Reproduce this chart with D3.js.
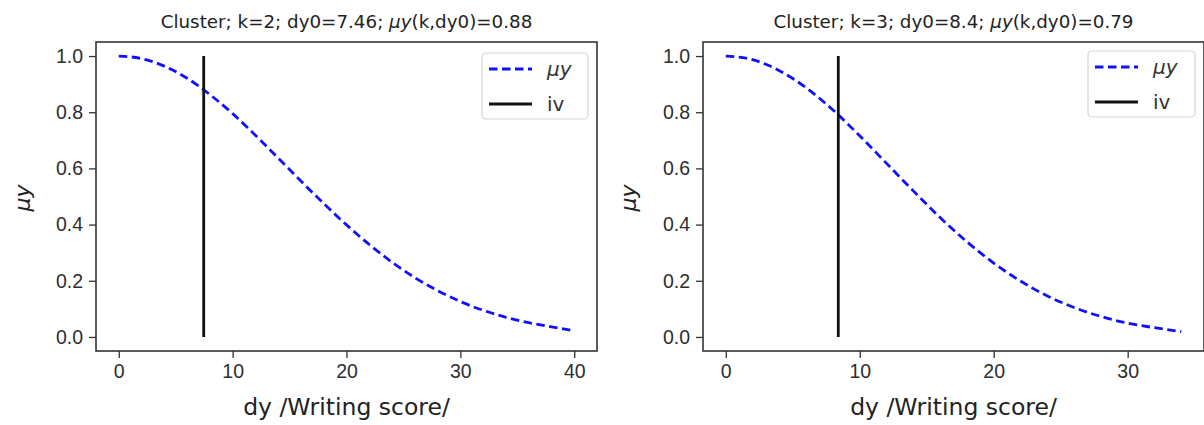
<!DOCTYPE html>
<html>
<head>
<meta charset="utf-8">
<script src="https://cdn.jsdelivr.net/npm/d3@7"></script>
<style>
  body { margin: 0; background: #fff; }
  svg { display: block; font-family: "DejaVu Sans", sans-serif; }
</style>
</head>
<body>
<div id="chart"></div>
<script>
const width = 1204;
const height = 425;

// left panel: k=2
const dyLeft = [0, 2, 4, 6, 8, 10, 12, 14, 16, 18, 20, 22, 24, 26, 28, 30, 32, 34, 36, 38, 40];
const muLeft = [1.000, 0.991, 0.964, 0.921, 0.863, 0.795, 0.718, 0.637, 0.555, 0.475, 0.399,
                0.329, 0.266, 0.211, 0.165, 0.126, 0.095, 0.070, 0.051, 0.036, 0.022];
// right panel: k=3
const dyRight = [0, 2, 4, 6, 8, 10, 12, 14, 16, 18, 20, 22, 24, 26, 28, 30, 32, 34];
const muRight = [1.000, 0.987, 0.948, 0.887, 0.808, 0.716, 0.618, 0.520, 0.425, 0.339, 0.263,
                 0.199, 0.146, 0.105, 0.073, 0.049, 0.033, 0.019];

const ivLeft = 7.46;
const ivRight = 8.4;
const titleLeft = ["Cluster; k=2; dy0=7.46; ", "0.88"];
const titleRight = ["Cluster; k=3; dy0=8.4; ", "0.79"];
const xTicksLeft = [0, 10, 20, 30, 40];
const xTicksRight = [0, 10, 20, 30];
const yTicks = [0, 0.2, 0.4, 0.6, 0.8, 1.0];

const svg = d3.select("#chart").append("svg").attr("width", width).attr("height", height);

const panels = [
  { dy: dyLeft, mu: muLeft, iv: ivLeft, title: titleLeft, xTicks: xTicksLeft,
    xDomain: [-2, 42], xRange: [96, 597], ylabX: 23,
    legend: { x: 482, y: 53, w: 106, h: 66 } },
  { dy: dyRight, mu: muRight, iv: ivRight, title: titleRight, xTicks: xTicksRight,
    xDomain: [-1.7, 35.7], xRange: [703, 1204], ylabX: 629,
    legend: { x: 1088, y: 51, w: 107, h: 66 } }
];

const yScale = d3.scaleLinear().domain([-0.05, 1.05]).range([351, 42]);

panels.forEach(p => {
  const x = d3.scaleLinear().domain(p.xDomain).range(p.xRange);
  const g = svg.append("g");

  // axes
  const xAxis = g.append("g")
    .attr("transform", `translate(0, ${yScale.range()[0]})`)
    .call(d3.axisBottom(x).tickValues(p.xTicks).tickSize(7).tickPadding(6).tickFormat(d3.format("d")));
  const yAxis = g.append("g")
    .attr("transform", `translate(${p.xRange[0]}, 0)`)
    .call(d3.axisLeft(yScale).tickValues(yTicks).tickSize(7).tickPadding(6).tickFormat(d3.format(".1f")));
  [xAxis, yAxis].forEach(a => {
    a.select(".domain").remove();
    a.selectAll(".tick line").attr("stroke", "#333").attr("stroke-width", 1.3);
    a.selectAll(".tick text").attr("fill", "#2e2e2e").attr("font-size", 19.5);
  });

  // curve
  const pts = p.dy.map((d, i) => [d, p.mu[i]]);
  g.append("path")
    .datum(pts)
    .attr("fill", "none")
    .attr("stroke", "#1010ff")
    .attr("stroke-width", 2.8)
    .attr("stroke-dasharray", "8.5,4.5")
    .attr("d", d3.line().curve(d3.curveMonotoneX).x(d => x(d[0])).y(d => yScale(d[1])));

  // iv line
  g.append("line")
    .attr("x1", x(p.iv)).attr("x2", x(p.iv))
    .attr("y1", yScale(0)).attr("y2", yScale(1))
    .attr("stroke", "#111").attr("stroke-width", 2.8);

  // frame
  g.append("rect")
    .attr("x", p.xRange[0]).attr("y", yScale.range()[1])
    .attr("width", p.xRange[1] - p.xRange[0])
    .attr("height", yScale.range()[0] - yScale.range()[1])
    .attr("fill", "none").attr("stroke", "#333").attr("stroke-width", 1.6);

  // title
  const cx = (p.xRange[0] + p.xRange[1]) / 2;
  const t = g.append("text").attr("x", cx).attr("y", 28)
    .attr("text-anchor", "middle").attr("font-size", 18.3).attr("fill", "#222");
  t.append("tspan").text(p.title[0]);
  t.append("tspan").attr("font-style", "italic").text("μy");
  t.append("tspan").text("(k,dy0)=" + p.title[1]);

  // axis labels
  g.append("text").attr("x", cx).attr("y", 415)
    .attr("text-anchor", "middle").attr("font-size", 23.5).attr("fill", "#222")
    .text("dy /Writing score/");
  g.append("text")
    .attr("transform", `translate(${p.ylabX + 7}, 198) rotate(-90)`)
    .attr("text-anchor", "middle").attr("font-size", 22).attr("font-style", "italic").attr("fill", "#222")
    .text("μy");

  // legend
  const L = p.legend;
  const lg = g.append("g").attr("transform", `translate(${L.x}, ${L.y})`);
  lg.append("rect").attr("width", L.w).attr("height", L.h).attr("rx", 4)
    .attr("fill", "#fff").attr("fill-opacity", 0.8).attr("stroke", "#d6d6d6").attr("stroke-width", 1.2);
  lg.append("line").attr("x1", 7).attr("x2", 50).attr("y1", 16).attr("y2", 16)
    .attr("stroke", "#1010ff").attr("stroke-width", 2.8).attr("stroke-dasharray", "8.5,4.5");
  lg.append("line").attr("x1", 7).attr("x2", 50).attr("y1", 51).attr("y2", 51)
    .attr("stroke", "#111").attr("stroke-width", 2.8);
  lg.append("text").attr("x", 65).attr("y", 23).attr("font-size", 20).attr("font-style", "italic")
    .attr("fill", "#333").text("μy");
  lg.append("text").attr("x", 65).attr("y", 58).attr("font-size", 20)
    .attr("fill", "#333").text("iv");
});
</script>
</body>
</html>
